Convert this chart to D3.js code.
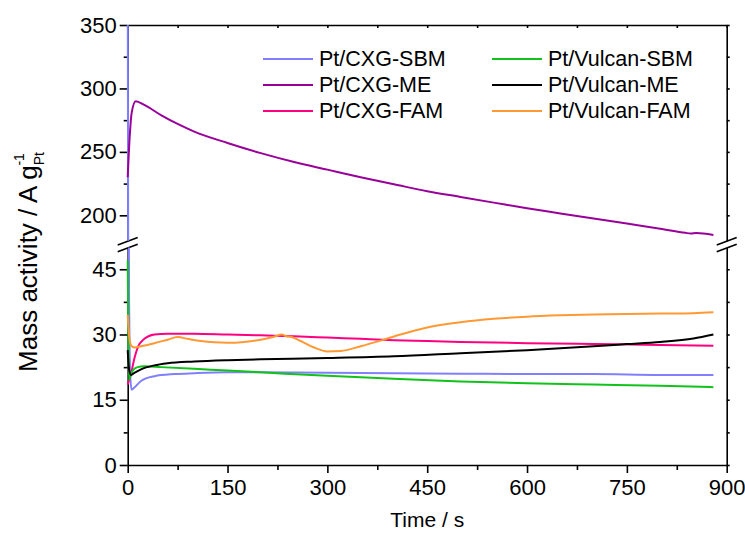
<!DOCTYPE html>
<html>
<head>
<meta charset="utf-8">
<script src="https://cdn.jsdelivr.net/npm/d3@7/dist/d3.min.js"></script>
<style>
  html, body { margin: 0; padding: 0; background: #fff; }
  svg { display: block; font-family: "Liberation Sans", Arial, sans-serif; }
</style>
</head>
<body>
<svg id="chart" width="745" height="535"></svg>
<script>
// ---- Data (time in s, mass activity in A/g_Pt) ----
const seriesNames = ["Pt/CXG-SBM", "Pt/CXG-ME", "Pt/CXG-FAM", "Pt/Vulcan-SBM", "Pt/Vulcan-ME", "Pt/Vulcan-FAM"];
const seriesColors = ["#8080ff", "#990099", "#ff0080", "#11c21b", "#000000", "#ff9933"];

const cxgSBM = [[0,400],[1,100],[2,40],[4,20],[6,17.3],[10,17.8],[20,19.3],[40,20.4],[70,20.9],[100,21.1],[150,21.3],[200,21.3],[300,21.2],[400,21.1],[500,21.0],[600,20.9],[700,20.9],[800,20.7],[880,20.7]];
const cxgME = [[0,230],[3,262],[6,281],[12,290],[25,287],[50,279],[75,272],[100,266],[150,257],[200,249],[250,242],[300,236],[350,230],[400,224.5],[450,219],[500,214.5],[550,210],[600,205.5],[650,201.5],[700,197.5],[750,193.5],[800,189.5],[838,186.2],[846,185.6],[854,186.0],[880,184.5]];
const cxgFAM = [[0,18.5],[5,21],[10,24.5],[15,27],[25,29],[40,30],[60,30.2],[100,30.2],[150,30.0],[200,29.8],[250,29.6],[300,29.3],[350,29.0],[400,28.7],[450,28.5],[500,28.3],[600,28.0],[700,27.8],[800,27.6],[880,27.4]];
const vulSBM = [[0,47],[1,30],[2,19.5],[4,20.5],[8,21.8],[15,22.5],[25,22.7],[50,22.5],[100,22.1],[150,21.7],[200,21.3],[300,20.5],[400,19.8],[500,19.2],[600,18.8],[700,18.5],[800,18.2],[880,17.9]];
const vulME = [[0,26.4],[2,22],[5,20.7],[10,21.2],[20,22],[40,22.9],[60,23.4],[100,23.8],[150,24.1],[200,24.3],[300,24.6],[400,25.0],[500,25.7],[600,26.4],[700,27.3],[750,27.8],[800,28.3],[850,29.1],[880,30.0]];
const vulFAM = [[0,34.5],[2,30],[5,27.5],[10,27],[20,27.3],[40,28],[60,28.8],[75,29.4],[90,29.0],[110,28.5],[130,28.2],[150,28.1],[175,28.3],[200,28.8],[220,29.5],[232,30.0],[238,29.6],[245,29.5],[260,28.5],[280,27.0],[300,26.1],[320,26.2],[350,27.3],[380,28.6],[410,30.0],[450,31.6],[500,32.8],[550,33.6],[600,34.1],[650,34.4],[700,34.6],[750,34.7],[800,34.8],[850,34.9],[880,35.1]];
const seriesData = [cxgSBM, cxgME, cxgFAM, vulSBM, vulME, vulFAM];

const xTicks = [0, 150, 300, 450, 600, 750, 900];
const xMinorTicks = [75, 225, 375, 525, 675, 825];
const upperTicks = [200, 250, 300, 350];
const upperMinorTicks = [225, 275, 325];
const lowerTicks = [0, 15, 30, 45];
const lowerMinorTicks = [7.5, 22.5, 37.5];
const xDomain = [0, 900];
const upperDomain = [180, 350];
const lowerDomain = [0, 50];

// ---- Layout ----
const L = 127.7, R = 726.7, T = 25, B = 465;
const upperBottom = 240.7, lowerTop = 247.5;

const svg = d3.select("#chart");
const x = d3.scaleLinear().domain(xDomain).range([L, R]);
const yU = d3.scaleLinear().domain(upperDomain).range([upperBottom, T]);
const yL = d3.scaleLinear().domain(lowerDomain).range([B, lowerTop]);

const axisColor = "#000";
const fs = 22;

function styleAxis(g, withText) {
  g.selectAll("path, line").attr("stroke", axisColor).attr("stroke-width", 1.6);
  g.selectAll("text").attr("font-size", fs).attr("fill", "#000")
    .attr("font-family", '"Liberation Sans", Arial, sans-serif');
  if (!withText) g.selectAll("text").remove();
}

// Left axes
const gUL = svg.append("g").attr("transform", `translate(${L},0)`)
  .call(d3.axisLeft(yU).tickValues(upperTicks).tickSize(8).tickSizeOuter(0).tickPadding(3));
styleAxis(gUL, true);
const gULm = svg.append("g").attr("transform", `translate(${L},0)`)
  .call(d3.axisLeft(yU).tickValues(upperMinorTicks).tickSize(4).tickSizeOuter(0));
styleAxis(gULm, false); gULm.select("path").remove();

const gLL = svg.append("g").attr("transform", `translate(${L},0)`)
  .call(d3.axisLeft(yL).tickValues(lowerTicks).tickSize(8).tickSizeOuter(0).tickPadding(3));
styleAxis(gLL, true);
const gLLm = svg.append("g").attr("transform", `translate(${L},0)`)
  .call(d3.axisLeft(yL).tickValues(lowerMinorTicks).tickSize(4).tickSizeOuter(0));
styleAxis(gLLm, false); gLLm.select("path").remove();

// Right axes (inward ticks, no labels)
const gUR = svg.append("g").attr("transform", `translate(${R},0)`)
  .call(d3.axisLeft(yU).tickValues(upperTicks.concat(upperMinorTicks)).tickSize(-3).tickSizeOuter(0));
styleAxis(gUR, false);
const gLR = svg.append("g").attr("transform", `translate(${R},0)`)
  .call(d3.axisLeft(yL).tickValues(lowerTicks.concat(lowerMinorTicks)).tickSize(-3).tickSizeOuter(0));
styleAxis(gLR, false);

// Bottom axis
const gB = svg.append("g").attr("transform", `translate(0,${B})`)
  .call(d3.axisBottom(x).tickValues(xTicks).tickSize(8).tickSizeOuter(0).tickPadding(6));
styleAxis(gB, true);
const gBm = svg.append("g").attr("transform", `translate(0,${B})`)
  .call(d3.axisBottom(x).tickValues(xMinorTicks).tickSize(5).tickSizeOuter(0));
styleAxis(gBm, false); gBm.select("path").remove();

// Top axis (inward ticks)
const gT = svg.append("g").attr("transform", `translate(0,${T})`)
  .call(d3.axisTop(x).tickValues(xTicks.concat(xMinorTicks)).tickSize(-3).tickSizeOuter(0));
styleAxis(gT, false);

// Break marks
function breakMarks(cx) {
  [241.3, 248].forEach(cy => {
    svg.append("line")
      .attr("x1", cx - 10).attr("y1", cy + 3.8)
      .attr("x2", cx + 10).attr("y2", cy - 3.8)
      .attr("stroke", "#000").attr("stroke-width", 1.6);
  });
}
breakMarks(L);
breakMarks(R);

// Clip paths
const defs = svg.append("defs");
defs.append("clipPath").attr("id", "clipU").append("rect")
  .attr("x", L - 2).attr("y", T).attr("width", R - L + 2).attr("height", upperBottom - T);
defs.append("clipPath").attr("id", "clipL").append("rect")
  .attr("x", L - 2).attr("y", lowerTop).attr("width", R - L + 2).attr("height", B - lowerTop);

const lineU = d3.line().x(d => x(d[0])).y(d => yU(d[1])).curve(d3.curveMonotoneX);
const lineL = d3.line().x(d => x(d[0])).y(d => yL(d[1])).curve(d3.curveMonotoneX);

const gU = svg.append("g").attr("clip-path", "url(#clipU)");
const gLo = svg.append("g").attr("clip-path", "url(#clipL)");
seriesData.forEach((data, i) => {
  gU.append("path").attr("d", lineU(data)).attr("fill", "none")
    .attr("stroke", seriesColors[i]).attr("stroke-width", 2).attr("stroke-linejoin", "round");
  gLo.append("path").attr("d", lineL(data)).attr("fill", "none")
    .attr("stroke", seriesColors[i]).attr("stroke-width", 2).attr("stroke-linejoin", "round");
});

// Legend
const legendCols = [263, 492];
const legendRows = [66, 92, 118];
seriesNames.forEach((name, i) => {
  const col = Math.floor(i / 3), row = i % 3;
  const lx = legendCols[col], ly = legendRows[row];
  svg.append("line").attr("x1", lx).attr("x2", lx + 50)
    .attr("y1", ly - 7).attr("y2", ly - 7)
    .attr("stroke", seriesColors[i]).attr("stroke-width", 2);
  svg.append("text").attr("x", lx + 56).attr("y", ly)
    .attr("font-size", 21.5).attr("fill", "#000").text(name);
});

// Axis titles
svg.append("text").attr("x", (L + R) / 2).attr("y", 527)
  .attr("text-anchor", "middle").attr("font-size", 21).text("Time / s");

const yt = svg.append("text")
  .attr("transform", "translate(37,262) rotate(-90)")
  .attr("text-anchor", "middle").attr("font-size", 26);
yt.append("tspan").text("Mass activity / A g");
yt.append("tspan").attr("font-size", 14).attr("dy", 7).text("Pt");
yt.append("tspan").attr("font-size", 14).attr("dx", -13.5).attr("dy", -20).text("-1");
</script>
</body>
</html>
